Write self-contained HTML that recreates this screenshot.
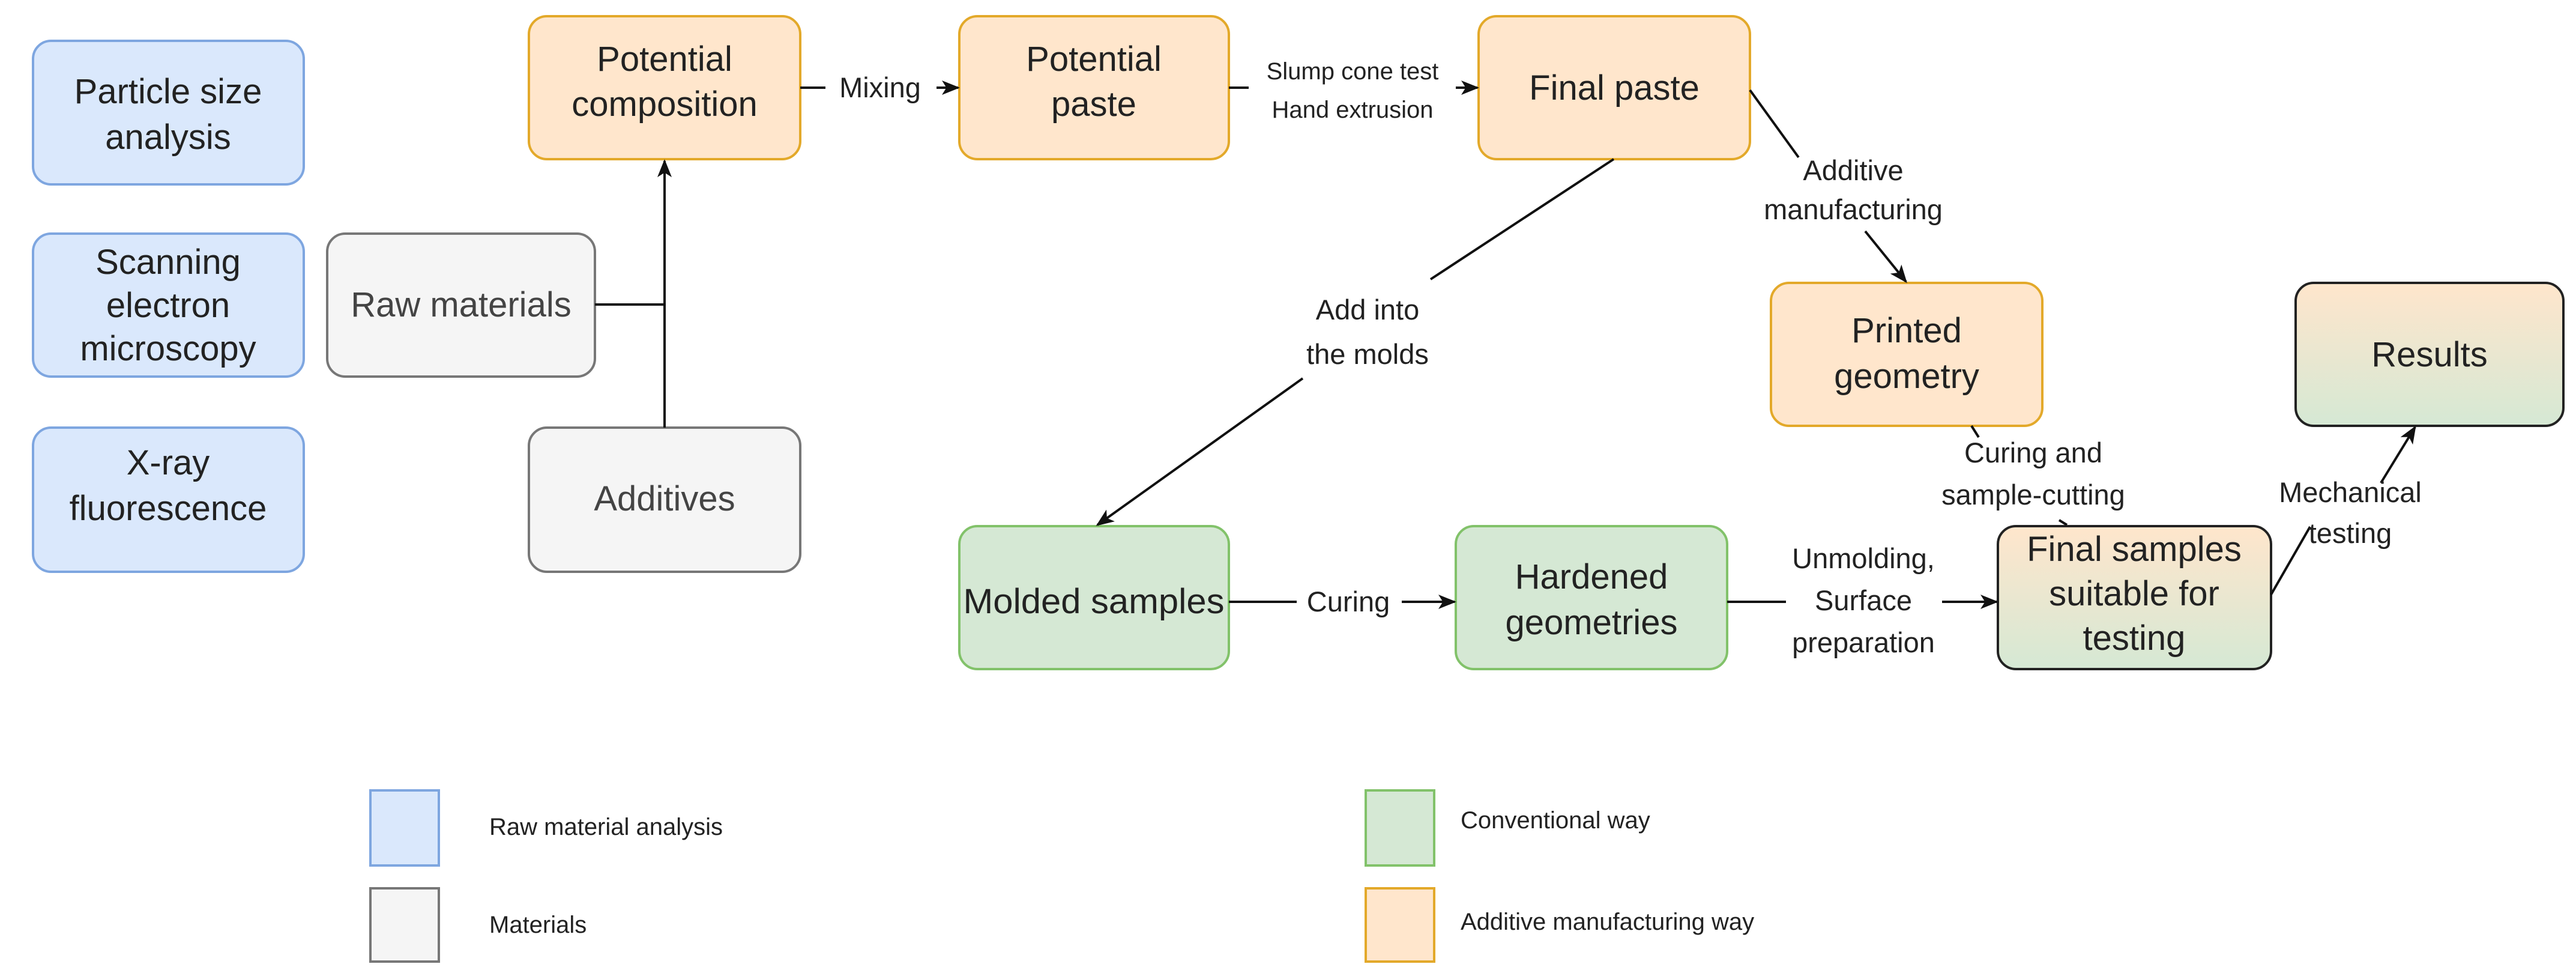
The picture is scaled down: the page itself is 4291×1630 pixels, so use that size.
<!DOCTYPE html>
<html><head><meta charset="utf-8"><style>
html,body{margin:0;padding:0;background:#fff;}
svg{display:block;}
text{font-family:"Liberation Sans",sans-serif;fill:#222;}
</style></head><body>
<svg width="4291" height="1630" viewBox="0 0 4291 1630" xmlns="http://www.w3.org/2000/svg">
<defs>
<marker id="ar" viewBox="0 0 20 20" refX="18" refY="10" markerWidth="30" markerHeight="30" orient="auto" markerUnits="userSpaceOnUse">
<path d="M0,2 L20,10 L0,18 L5,10 z" fill="#111"/>
</marker>
<linearGradient id="g" x1="0" y1="0" x2="0" y2="1">
<stop offset="0" stop-color="#ffe6cc"/><stop offset="1" stop-color="#d5e8d4"/>
</linearGradient>
</defs>
<g stroke-width="4">
<rect x="55" y="68" width="451" height="239" rx="30" fill="#dae8fc" stroke="#7ea6e0"/>
<rect x="55" y="389" width="451" height="238" rx="30" fill="#dae8fc" stroke="#7ea6e0"/>
<rect x="55" y="712" width="451" height="240" rx="30" fill="#dae8fc" stroke="#7ea6e0"/>
<rect x="545" y="389" width="446" height="238" rx="30" fill="#f5f5f5" stroke="#777"/>
<rect x="881" y="712" width="452" height="240" rx="30" fill="#f5f5f5" stroke="#777"/>
<rect x="881" y="27" width="452" height="238" rx="30" fill="#ffe6cc" stroke="#e3a92a"/>
<rect x="1598" y="27" width="449" height="238" rx="30" fill="#ffe6cc" stroke="#e3a92a"/>
<rect x="2463" y="27" width="452" height="238" rx="30" fill="#ffe6cc" stroke="#e3a92a"/>
<rect x="2950" y="471" width="452" height="238" rx="30" fill="#ffe6cc" stroke="#e3a92a"/>
<rect x="1598" y="876" width="449" height="238" rx="30" fill="#d5e8d4" stroke="#82c26a"/>
<rect x="2425" y="876" width="452" height="238" rx="30" fill="#d5e8d4" stroke="#82c26a"/>
<rect x="3328" y="876" width="455" height="238" rx="30" fill="url(#g)" stroke="#222"/>
<rect x="3824" y="471" width="446" height="238" rx="30" fill="url(#g)" stroke="#222"/>
<rect x="617" y="1316" width="114" height="125" fill="#dae8fc" stroke="#7ea6e0"/>
<rect x="617" y="1479" width="114" height="122" fill="#f5f5f5" stroke="#777"/>
<rect x="2275" y="1316" width="114" height="125" fill="#d5e8d4" stroke="#82c26a"/>
<rect x="2275" y="1479" width="114" height="122" fill="#ffe6cc" stroke="#e3a92a"/>
</g>
<g stroke="#111" stroke-width="4" fill="none">
<path d="M991,507 H1107"/>
<path d="M1107,712 V268" marker-end="url(#ar)"/>
<path d="M1333,146 H1375"/><path d="M1560,146 H1596" marker-end="url(#ar)"/>
<path d="M2047,146 H2080"/><path d="M2425,146 H2461" marker-end="url(#ar)"/>
<path d="M2915,150 L2996,262"/><path d="M3107,385 L3175,469" marker-end="url(#ar)"/>
<path d="M2688,265 L2383,465"/><path d="M2170,630 L1828,874" marker-end="url(#ar)"/>
<path d="M2047,1002 H2160"/><path d="M2335,1002 H2423" marker-end="url(#ar)"/>
<path d="M2877,1002 H2975"/><path d="M3235,1002 H3326" marker-end="url(#ar)"/>
<path d="M3284,709 L3296,728"/><path d="M3430,866 L3443,874"/>
<path d="M3783,990 L3848,877"/><path d="M3966,804 L4023,711" marker-end="url(#ar)"/>
</g>
<g font-size="58" text-anchor="middle">
<text x="280" y="172">Particle size</text><text x="280" y="248">analysis</text>
<text x="280" y="456">Scanning</text><text x="280" y="528">electron</text><text x="280" y="600">microscopy</text>
<text x="280" y="790">X-ray</text><text x="280" y="866">fluorescence</text>
<text x="768" y="527" style="fill:#444">Raw materials</text>
<text x="1107" y="850" style="fill:#444">Additives</text>
<text x="1107" y="118">Potential</text><text x="1107" y="193">composition</text>
<text x="1822" y="118">Potential</text><text x="1822" y="193">paste</text>
<text x="2689" y="166">Final paste</text>
<text x="3176" y="570">Printed</text><text x="3176" y="646">geometry</text>
<text x="4047" y="610">Results</text>
<text x="1822" y="1021" textLength="435" lengthAdjust="spacingAndGlyphs">Molded samples</text>
<text x="2651" y="980">Hardened</text><text x="2651" y="1056">geometries</text>
<text x="3555" y="934">Final samples</text><text x="3555" y="1008">suitable for</text><text x="3555" y="1082">testing</text>
</g>
<g font-size="47" text-anchor="middle">
<text x="1466" y="162">Mixing</text>
<text x="3087" y="300">Additive</text><text x="3087" y="365">manufacturing</text>
<text x="2278" y="532">Add into</text><text x="2278" y="606">the molds</text>
<text x="2246" y="1018">Curing</text>
<text x="3104" y="946">Unmolding,</text><text x="3104" y="1016">Surface</text><text x="3104" y="1086">preparation</text>
<text x="3387" y="770">Curing and</text><text x="3387" y="840">sample-cutting</text>
<text x="3915" y="836">Mechanical</text><text x="3915" y="904">testing</text>
</g>
<g font-size="40" text-anchor="middle">
<text x="2253" y="132">Slump cone test</text><text x="2253" y="196">Hand extrusion</text>
</g>
<g font-size="40">
<text x="815" y="1390">Raw material analysis</text>
<text x="815" y="1553">Materials</text>
<text x="2433" y="1379">Conventional way</text>
<text x="2433" y="1548">Additive manufacturing way</text>
</g>
</svg>
</body></html>
